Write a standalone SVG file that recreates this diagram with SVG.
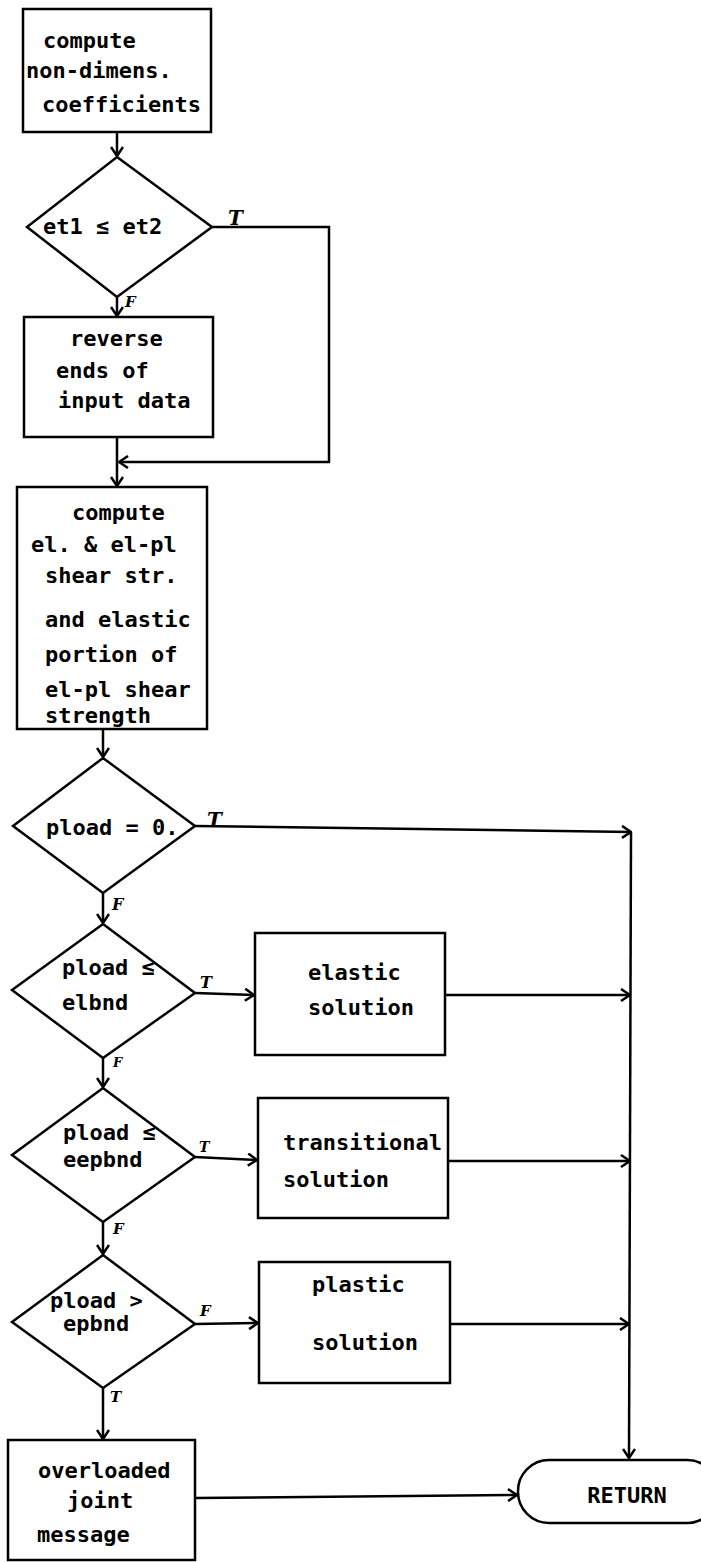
<svg xmlns="http://www.w3.org/2000/svg" width="701" height="1562" viewBox="0 0 701 1562">
<style>
.s{fill:none;stroke:#000;stroke-width:2.5;stroke-linejoin:miter}
.c{fill:none;stroke:#000;stroke-width:2.5}
.t{font-family:"DejaVu Sans Mono","Liberation Mono",monospace;font-weight:bold;font-size:22px;fill:#000}
.l{font-family:"DejaVu Serif","Liberation Serif",serif;font-style:italic;font-weight:bold;fill:#000}
</style>
<defs>
<marker id="a" markerWidth="12" markerHeight="14" refX="11" refY="7" orient="auto" markerUnits="userSpaceOnUse">
<path d="M2,1 L11,7 L2,13" fill="none" stroke="#000" stroke-width="2.5"/>
</marker>
</defs>
<rect width="701" height="1562" fill="#fff"/>

<g id="connectors">
<line class="c" x1="117" y1="132" x2="117" y2="156" marker-end="url(#a)"/>
<polyline class="c" points="212,227 329,227 329,462 119,462" marker-end="url(#a)"/>
<line class="c" x1="117" y1="297" x2="117" y2="316" marker-end="url(#a)"/>
<line class="c" x1="117" y1="437" x2="117" y2="486" marker-end="url(#a)"/>
<line class="c" x1="103" y1="729" x2="103" y2="757" marker-end="url(#a)"/>
<line class="c" x1="195" y1="826" x2="631" y2="832" marker-end="url(#a)"/>
<line class="c" x1="631" y1="832" x2="629" y2="1458" marker-end="url(#a)"/>
<line class="c" x1="103" y1="893" x2="103" y2="923" marker-end="url(#a)"/>
<line class="c" x1="195" y1="993" x2="254" y2="995" marker-end="url(#a)"/>
<line class="c" x1="445" y1="995" x2="630" y2="995" marker-end="url(#a)"/>
<line class="c" x1="103" y1="1058" x2="103" y2="1087" marker-end="url(#a)"/>
<line class="c" x1="195" y1="1157" x2="257" y2="1160" marker-end="url(#a)"/>
<line class="c" x1="448" y1="1161" x2="630" y2="1161" marker-end="url(#a)"/>
<line class="c" x1="103" y1="1222" x2="103" y2="1254" marker-end="url(#a)"/>
<line class="c" x1="195" y1="1324" x2="258" y2="1323" marker-end="url(#a)"/>
<line class="c" x1="450" y1="1324" x2="629" y2="1324" marker-end="url(#a)"/>
<line class="c" x1="103" y1="1388" x2="103" y2="1439" marker-end="url(#a)"/>
<line class="c" x1="195" y1="1498" x2="517" y2="1495" marker-end="url(#a)"/>
<text class="l" x="228" y="225" font-size="20">T</text>
<text class="l" x="125" y="307" font-size="15">F</text>
<text class="l" x="207" y="827" font-size="20">T</text>
<text class="l" x="112" y="910" font-size="16">F</text>
<text class="l" x="200" y="988" font-size="16">T</text>
<text class="l" x="113" y="1067" font-size="13">F</text>
<text class="l" x="199" y="1152" font-size="14">T</text>
<text class="l" x="113" y="1234" font-size="15">F</text>
<text class="l" x="200" y="1316" font-size="15">F</text>
<text class="l" x="110" y="1402" font-size="15">T</text>
</g>

<g id="n1">
<rect class="s" x="23" y="9" width="188" height="123"/>
<text class="t" x="43" y="48">compute</text>
<text class="t" x="26" y="78">non-dimens.</text>
<text class="t" x="42" y="112">coefficients</text>
</g>

<g id="d1">
<polygon class="s" points="117,157 212,227 117,297 27,227"/>
<text class="t" x="43" y="234">et1 ≤ et2</text>
</g>

<g id="n2">
<rect class="s" x="24" y="317" width="189" height="120"/>
<text class="t" x="70" y="346">reverse</text>
<text class="t" x="56" y="378">ends of</text>
<text class="t" x="58" y="408">input data</text>
</g>

<g id="n3">
<rect class="s" x="17" y="487" width="190" height="242"/>
<text class="t" x="72" y="520">compute</text>
<text class="t" x="31" y="552">el. &amp; el-pl</text>
<text class="t" x="45" y="583">shear str.</text>
<text class="t" x="45" y="627">and elastic</text>
<text class="t" x="45" y="662">portion of</text>
<text class="t" x="45" y="697">el-pl shear</text>
<text class="t" x="45" y="723">strength</text>
</g>

<g id="d2">
<polygon class="s" points="103,758 195,826 103,893 13,826"/>
<text class="t" x="46" y="835">pload = 0.</text>
</g>

<g id="d3">
<polygon class="s" points="103,924 195,993 103,1058 12,990"/>
<text class="t" x="62" y="975">pload ≤</text>
<text class="t" x="62" y="1010">elbnd</text>
</g>

<g id="n4">
<rect class="s" x="255" y="933" width="190" height="122"/>
<text class="t" x="308" y="980">elastic</text>
<text class="t" x="308" y="1015">solution</text>
</g>

<g id="d4">
<polygon class="s" points="103,1088 195,1157 103,1222 12,1155"/>
<text class="t" x="63" y="1140">pload ≤</text>
<text class="t" x="63" y="1167">eepbnd</text>
</g>

<g id="n5">
<rect class="s" x="258" y="1098" width="190" height="120"/>
<text class="t" x="283" y="1150">transitional</text>
<text class="t" x="283" y="1187">solution</text>
</g>

<g id="d5">
<polygon class="s" points="103,1255 195,1324 103,1388 12,1322"/>
<text class="t" x="50" y="1308">pload &gt;</text>
<text class="t" x="63" y="1331">epbnd</text>
</g>

<g id="n6">
<rect class="s" x="259" y="1262" width="191" height="121"/>
<text class="t" x="312" y="1292">plastic</text>
<text class="t" x="312" y="1350">solution</text>
</g>

<g id="n7">
<rect class="s" x="8" y="1440" width="187" height="120"/>
<text class="t" x="38" y="1478">overloaded</text>
<text class="t" x="67" y="1508">joint</text>
<text class="t" x="37" y="1542">message</text>
</g>

<g id="n8">
<rect class="s" x="518" y="1460" width="200" height="63" rx="31" ry="31"/>
<text class="t" x="627" y="1503" text-anchor="middle">RETURN</text>
</g>
</svg>
